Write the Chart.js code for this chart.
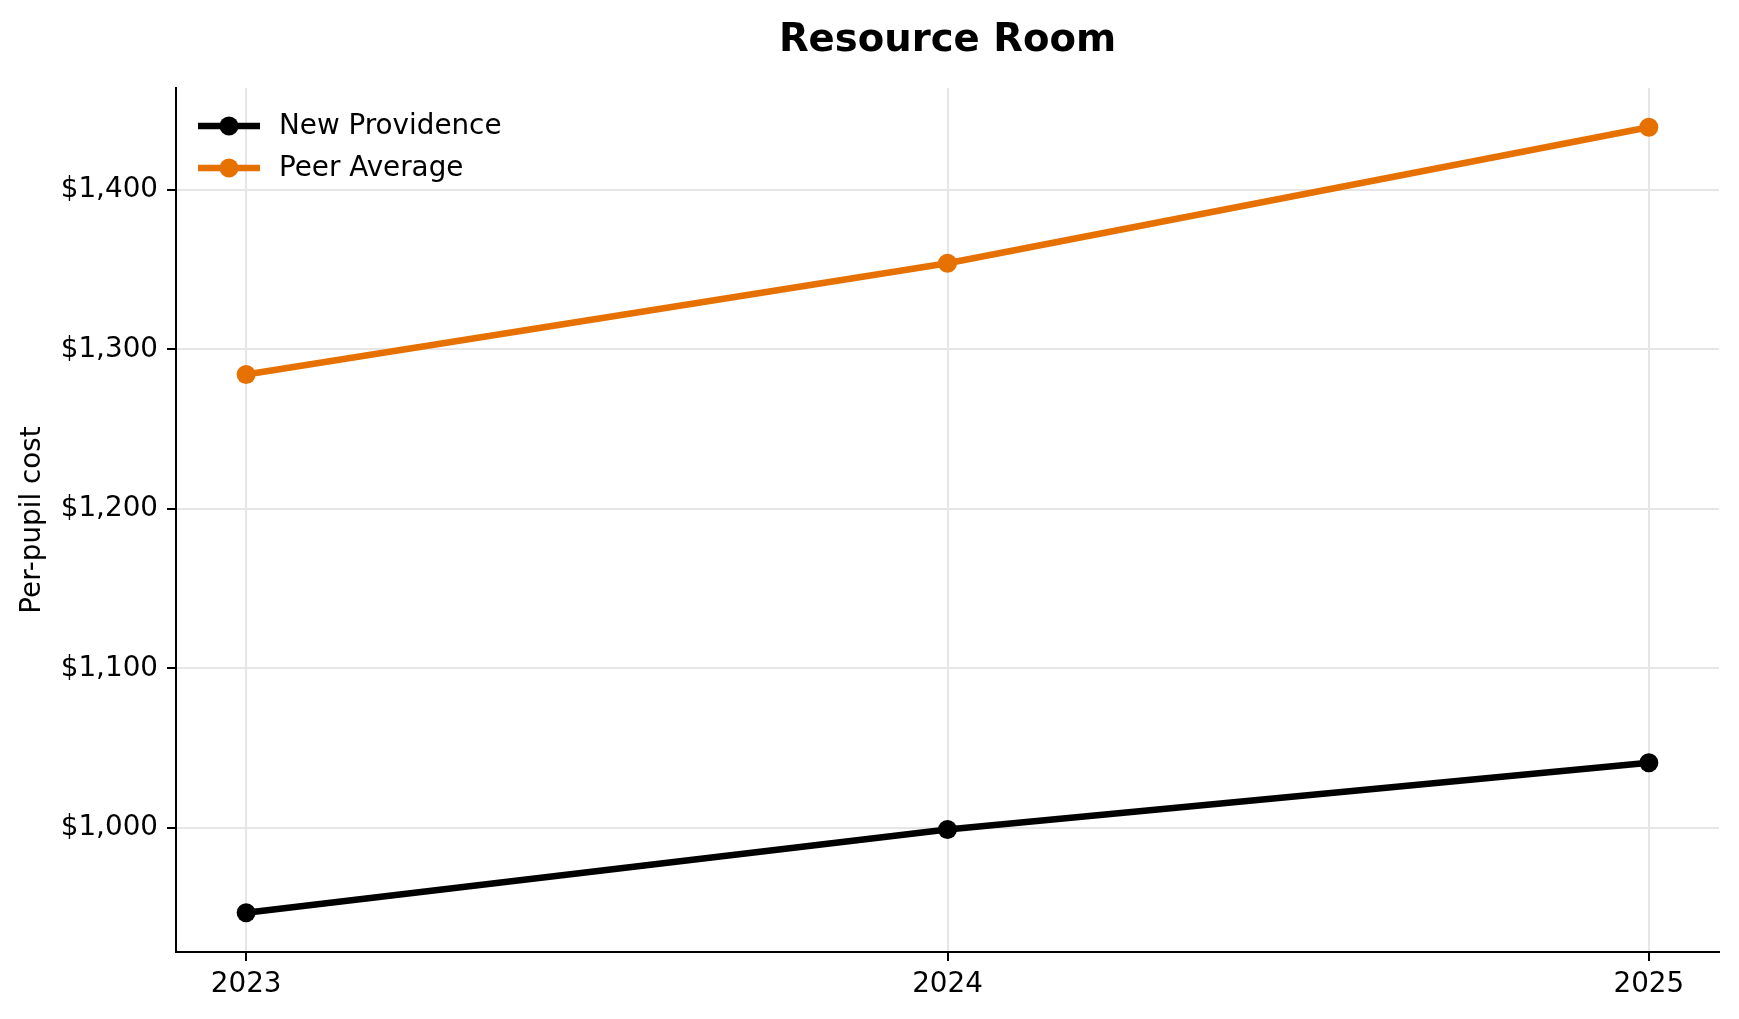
<!DOCTYPE html>
<html>
<head>
<meta charset="utf-8">
<title>Resource Room</title>
<script src="https://cdn.jsdelivr.net/npm/chart.js@4.4.0/dist/chart.umd.min.js"></script>
<style>
  html, body { margin: 0; padding: 0; background: #fff; }
  #wrap { width: 1739px; height: 1019px; position: relative; }
</style>
</head>
<body>
<div id="wrap"><canvas id="costChart"></canvas></div>
<script>
// values
const years = [2023, 2024, 2025];
const newProvidence = [946.7, 998.9, 1040.8];
const peerAverage = [1284.3, 1354.0, 1439.3];
const yTicks = [1000, 1100, 1200, 1300, 1400];
const xRange = [2022.9, 2025.1];
const yRange = [922.1, 1463.9];

const FONT = '"DejaVu Sans", "Noto Sans", sans-serif';
const tickFont = { family: FONT, size: 27.8 };

// legend drawn inside the plot, top-left, line + marker like matplotlib
const insideLegend = {
  id: 'insideLegend',
  afterDatasetsDraw(chart) {
    const ctx = chart.ctx;
    const area = chart.chartArea;
    ctx.save();
    ctx.font = '27.8px ' + FONT;
    ctx.textBaseline = 'middle';
    chart.data.datasets.forEach(function (ds, i) {
      const y = area.top + 38 + i * 42;
      const x0 = area.left + 22;
      ctx.strokeStyle = ds.borderColor;
      ctx.lineWidth = ds.borderWidth;
      ctx.beginPath();
      ctx.moveTo(x0, y);
      ctx.lineTo(x0 + 62, y);
      ctx.stroke();
      ctx.fillStyle = ds.borderColor;
      ctx.beginPath();
      ctx.arc(x0 + 31, y, ds.pointRadius, 0, Math.PI * 2);
      ctx.fill();
      ctx.fillStyle = '#000';
      ctx.fillText(ds.label, area.left + 103, y + 1);
    });
    ctx.restore();
  }
};

function toPoints(vals) {
  return years.map((yr, i) => ({ x: yr, y: vals[i] }));
}

new Chart(document.getElementById('costChart'), {
  type: 'line',
  data: {
    datasets: [
      {
        label: 'New Providence',
        data: toPoints(newProvidence),
        borderColor: '#000000',
        backgroundColor: '#000000',
        borderWidth: 6.5,
        pointRadius: 9.5,
        pointBorderWidth: 0,
        pointBackgroundColor: '#000000',
        tension: 0
      },
      {
        label: 'Peer Average',
        data: toPoints(peerAverage),
        borderColor: '#e67100',
        backgroundColor: '#e67100',
        borderWidth: 6.5,
        pointRadius: 9.5,
        pointBorderWidth: 0,
        pointBackgroundColor: '#e67100',
        tension: 0
      }
    ]
  },
  options: {
    responsive: true,
    maintainAspectRatio: false,
    devicePixelRatio: 1,
    animation: false,
    layout: { padding: { left: 0, right: 20, top: 0, bottom: 20 } },
    plugins: {
      legend: { display: false },
      tooltip: { enabled: false },
      title: {
        display: true,
        text: 'Resource Room',
        fullSize: false,
        color: '#000',
        font: { family: FONT, size: 38.6, weight: 'bold' },
        padding: { top: 17.5, bottom: 24.2 }
      }
    },
    scales: {
      x: {
        type: 'linear',
        min: xRange[0],
        max: xRange[1],
        afterBuildTicks: function (s) { s.ticks = years.map(v => ({ value: v })); },
        afterFit: function (s) { s.height = 47; },
        ticks: {
          callback: v => String(v),
          color: '#000',
          font: tickFont,
          padding: 7.5,
          maxRotation: 0,
          autoSkip: false
        },
        grid: { color: '#e6e6e6', lineWidth: 2, tickColor: '#000', tickWidth: 2, tickLength: 9 },
        border: { color: '#000', width: 2 }
      },
      y: {
        min: yRange[0],
        max: yRange[1],
        afterBuildTicks: function (s) { s.ticks = yTicks.map(v => ({ value: v })); },
        afterFit: function (s) { s.width = 176; },
        ticks: {
          callback: v => '$' + v.toLocaleString('en-US'),
          color: '#000',
          font: tickFont,
          padding: 9
        },
        grid: { color: '#e6e6e6', lineWidth: 2, tickColor: '#000', tickWidth: 2, tickLength: 9 },
        border: { color: '#000', width: 2 },
        title: {
          display: true,
          text: 'Per-pupil cost',
          color: '#000',
          font: tickFont,
          padding: { top: 16, bottom: 0 }
        }
      }
    }
  },
  plugins: [insideLegend]
});
</script>
</body>
</html>
